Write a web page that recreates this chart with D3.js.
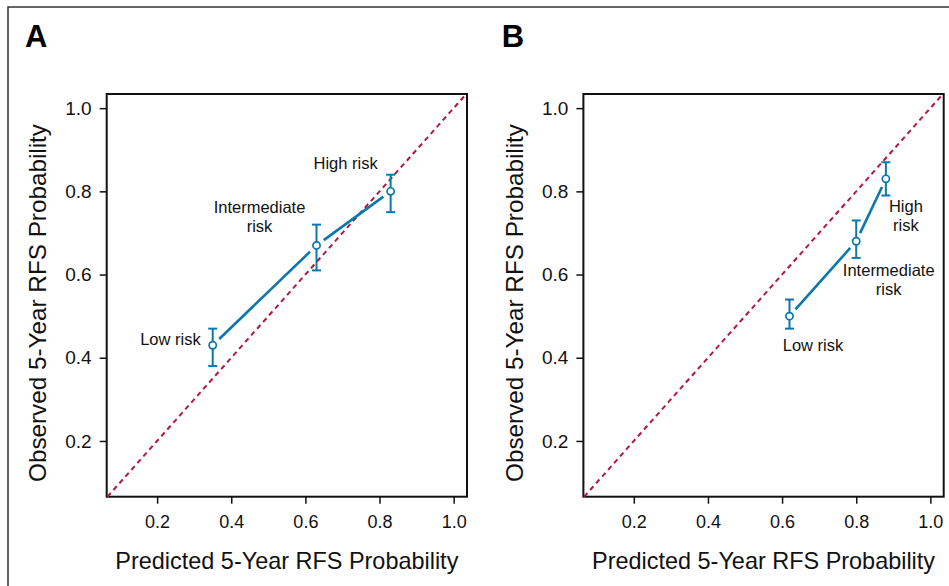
<!DOCTYPE html>
<html>
<head>
<meta charset="utf-8">
<script src="https://cdn.jsdelivr.net/npm/d3@7"></script>
<style>
    body { margin: 0; background: #fff; }
    svg { display: block; }
    .tick text { fill: #111; font-family: "Liberation Sans", Arial, sans-serif; }
</style>
</head>
<body>
<script>
// Calibration plots: observed vs predicted 5-year RFS, by risk group.
var riskGroups = ["Low risk", "Intermediate risk", "High risk"];
var tickValues = [0.2, 0.4, 0.6, 0.8, 1.0];

// Panel A
var predictedA = [0.35, 0.63, 0.83];
var observedA = [0.43, 0.67, 0.80];
var lowerA = [0.38, 0.61, 0.75];
var upperA = [0.47, 0.72, 0.84];

// Panel B
var predictedB = [0.62, 0.80, 0.88];
var observedB = [0.50, 0.68, 0.83];
var lowerB = [0.47, 0.64, 0.79];
var upperB = [0.54, 0.73, 0.87];

var W = 949, H = 586;
var blue = "#0b77ae", red = "#b2173f";

var svg = d3.select("body").append("svg")
    .attr("width", W)
    .attr("height", H);

// outer frame (top and left edges only)
svg.append("path")
    .attr("d", "M8,586V7H949")
    .attr("fill", "none")
    .attr("stroke", "#333")
    .attr("stroke-width", 1.5);

var box = {left: 106.7, top: 94, width: 360.3, height: 402.7};

// label layout per panel: [dx, dy of first line, text-anchor, lines]
var labelsA = [
    {dx: -12, dy: 0, anchor: "end", lines: ["Low risk"]},
    {dx: -57, dy: -32.5, anchor: "middle", lines: ["Intermediate", "risk"]},
    {dx: -45, dy: -22.5, anchor: "middle", lines: ["High risk"]}
];
var labelsB = [
    {dx: 23.5, dy: 34.5, anchor: "middle", lines: ["Low risk"]},
    {dx: 32.5, dy: 35, anchor: "middle", lines: ["Intermediate", "risk"]},
    {dx: 20, dy: 33.5, anchor: "middle", lines: ["High", "risk"]}
];

function drawPanel(offsetX, letter, pred, obs, lo, hi, labels) {
    var g = svg.append("g")
        .attr("transform", "translate(" + offsetX + ",0)");

    var x = d3.scaleLinear().domain([0.064, 1.036])
        .range([box.left, box.left + box.width]);
    var y = d3.scaleLinear().domain([0.066, 1.034])
        .range([box.top + box.height, box.top]);

    g.append("text")
        .attr("x", 25).attr("y", 47)
        .attr("font-family", "Liberation Sans, Arial, sans-serif")
        .attr("font-weight", "bold")
        .attr("font-size", 31)
        .attr("fill", "#000")
        .text(letter);

    // axes
    var yAxis = d3.axisLeft(y).tickValues(tickValues)
        .tickFormat(d3.format(".1f")).tickSize(7).tickPadding(8);
    var xAxis = d3.axisBottom(x).tickValues(tickValues)
        .tickFormat(d3.format(".1f")).tickSize(7).tickPadding(12);

    var ya = g.append("g")
        .attr("transform", "translate(" + box.left + ",0)")
        .call(yAxis);
    ya.select(".domain").remove();
    ya.selectAll(".tick line").attr("stroke", "#111").attr("stroke-width", 1.5);
    ya.selectAll(".tick text").attr("font-size", 19);

    var xa = g.append("g")
        .attr("transform", "translate(0," + (box.top + box.height) + ")")
        .call(xAxis);
    xa.select(".domain").remove();
    xa.selectAll(".tick line").attr("stroke", "#111").attr("stroke-width", 1.5);
    xa.selectAll(".tick text").attr("font-size", 18);

    // plot box
    g.append("rect")
        .attr("x", box.left).attr("y", box.top)
        .attr("width", box.width).attr("height", box.height)
        .attr("fill", "none")
        .attr("stroke", "#111")
        .attr("stroke-width", 2);

    // axis titles
    g.append("text")
        .attr("x", box.left + box.width / 2)
        .attr("y", 569)
        .attr("text-anchor", "middle")
        .attr("font-family", "Liberation Sans Narrow, Arial Narrow, sans-serif")
        .attr("font-stretch", "condensed")
        .attr("font-size", 24)
        .attr("fill", "#111")
        .attr("textLength", 343)
        .attr("lengthAdjust", "spacingAndGlyphs")
        .text("Predicted 5-Year RFS Probability");

    g.append("text")
        .attr("transform", "translate(46,303) rotate(-90)")
        .attr("text-anchor", "middle")
        .attr("font-family", "Liberation Sans Narrow, Arial Narrow, sans-serif")
        .attr("font-stretch", "condensed")
        .attr("font-size", 24)
        .attr("fill", "#111")
        .attr("textLength", 358)
        .attr("lengthAdjust", "spacingAndGlyphs")
        .text("Observed 5-Year RFS Probability");

    // reference diagonal
    var d0 = Math.max(x.domain()[0], y.domain()[0]);
    var d1 = Math.min(x.domain()[1], y.domain()[1]);
    g.append("line")
        .attr("x1", x(d0)).attr("y1", y(d0))
        .attr("x2", x(d1)).attr("y2", y(d1))
        .attr("stroke", red)
        .attr("stroke-width", 2)
        .attr("stroke-dasharray", "5,4");

    var pts = pred.map(function(p, i) {
        return {px: x(p), py: y(obs[i]), lo: y(lo[i]), hi: y(hi[i])};
    });

    // connecting segments, trimmed near each marker
    var gap = 9;
    for (var i = 0; i < pts.length - 1; i++) {
        var a = pts[i], b = pts[i + 1];
        var dx = b.px - a.px, dy = b.py - a.py;
        var len = Math.sqrt(dx * dx + dy * dy);
        var ux = dx / len, uy = dy / len;
        g.append("line")
            .attr("x1", a.px + ux * gap).attr("y1", a.py + uy * gap)
            .attr("x2", b.px - ux * gap).attr("y2", b.py - uy * gap)
            .attr("stroke", blue)
            .attr("stroke-width", 2.6);
    }

    // error bars
    var eb = g.selectAll(".eb").data(pts).enter().append("g")
        .attr("class", "eb")
        .attr("stroke", blue)
        .attr("stroke-width", 2)
        .attr("fill", "none");
    eb.append("line")
        .attr("x1", function(d) { return d.px; })
        .attr("x2", function(d) { return d.px; })
        .attr("y1", function(d) { return d.lo; })
        .attr("y2", function(d) { return d.hi; });
    eb.append("line")
        .attr("x1", function(d) { return d.px - 4.5; })
        .attr("x2", function(d) { return d.px + 4.5; })
        .attr("y1", function(d) { return d.lo; })
        .attr("y2", function(d) { return d.lo; });
    eb.append("line")
        .attr("x1", function(d) { return d.px - 4.5; })
        .attr("x2", function(d) { return d.px + 4.5; })
        .attr("y1", function(d) { return d.hi; })
        .attr("y2", function(d) { return d.hi; });
    eb.append("circle")
        .attr("cx", function(d) { return d.px; })
        .attr("cy", function(d) { return d.py; })
        .attr("r", 3.6)
        .attr("fill", "#fff")
        .attr("stroke-width", 1.7);

    // risk group labels
    pts.forEach(function(p, i) {
        var L = labels[i];
        var t = g.append("text")
            .attr("text-anchor", L.anchor)
            .attr("font-family", "Liberation Sans, Arial, sans-serif")
            .attr("font-size", 16.5)
            .attr("fill", "#111");
        L.lines.forEach(function(s, k) {
            t.append("tspan")
                .attr("x", p.px + L.dx)
                .attr("y", p.py + L.dy + k * 19)
                .text(s);
        });
    });
}

drawPanel(0, "A", predictedA, observedA, lowerA, upperA, labelsA);
drawPanel(476.7, "B", predictedB, observedB, lowerB, upperB, labelsB);
</script>
</body>
</html>
